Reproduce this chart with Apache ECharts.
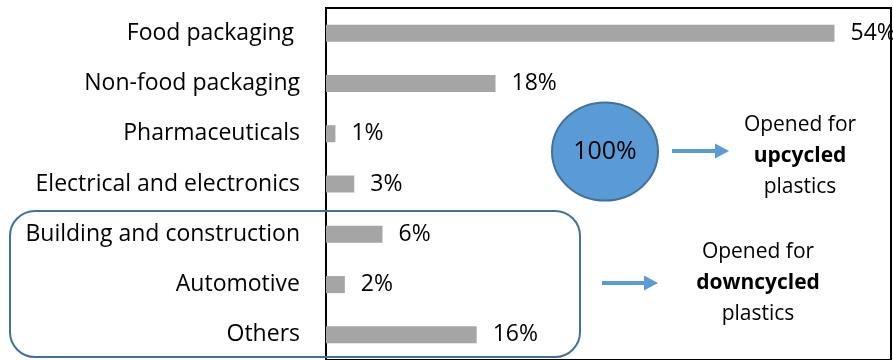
<!DOCTYPE html>
<html>
<head>
<meta charset="utf-8">
<script src="https://cdn.jsdelivr.net/npm/echarts@6/dist/echarts.min.js"></script>
<style>
  html, body { margin: 0; padding: 0; background: #fff; }
  #chart { width: 893px; height: 360px; }
</style>
</head>
<body>
<div id="chart"></div>
<script>
// sectors and their share (%)
var sectors = ['Food packaging ', 'Non-food packaging', 'Pharmaceuticals', 'Electrical and electronics',
  'Building and construction', 'Automotive', 'Others'];
var shares = [54, 18, 1, 3, 6, 2, 16];
var xMax = 60;

var FONT = 'Open Sans';
var chart = echarts.init(document.getElementById('chart'));

chart.setOption({
  animation: false,
  grid: {
    left: 326,
    right: 2,
    top: 8,
    height: 355,
    show: true,
    borderColor: '#000',
    borderWidth: 2
  },
  xAxis: {
    type: 'value',
    min: 0,
    max: xMax,
    show: false
  },
  yAxis: {
    type: 'category',
    inverse: true,
    data: sectors,
    axisLine: { lineStyle: { color: '#000', width: 2 } },
    axisTick: { show: false },
    axisLabel: {
      margin: 26,
      color: '#000',
      fontFamily: FONT,
      fontSize: 23
    }
  },
  series: [{
    type: 'bar',
    data: shares,
    barWidth: 17,
    itemStyle: { color: '#a5a5a5' },
    label: {
      show: true,
      position: 'right',
      distance: 16,
      color: '#000',
      fontFamily: FONT,
      fontSize: 23,
      formatter: '{c}%'
    }
  }],
  graphic: [
    // rounded box around the downcycled group
    {
      type: 'rect',
      shape: { x: 10, y: 211, width: 570, height: 146, r: 25 },
      style: { fill: 'none', stroke: '#41719c', lineWidth: 2 },
      z: 10
    },
    // circle
    {
      type: 'ellipse',
      shape: { cx: 605, cy: 151.5, rx: 53, ry: 49 },
      style: { fill: '#5b9bd5', stroke: '#41719c', lineWidth: 2 },
      z: 10
    },
    {
      type: 'text',
      x: 605, y: 152,
      style: {
        text: '100%', fill: '#000', font: '25px ' + FONT,
        align: 'center', verticalAlign: 'middle'
      },
      z: 11
    },
    // arrows
    {
      type: 'line',
      shape: { x1: 672, y1: 151, x2: 716, y2: 151 },
      style: { stroke: '#5b9bd5', lineWidth: 4 },
      z: 10
    },
    {
      type: 'polygon',
      shape: { points: [[715, 143.5], [729, 151], [715, 158.5]] },
      style: { fill: '#5b9bd5' },
      z: 10
    },
    {
      type: 'line',
      shape: { x1: 602, y1: 283, x2: 645, y2: 283 },
      style: { stroke: '#5b9bd5', lineWidth: 4 },
      z: 10
    },
    {
      type: 'polygon',
      shape: { points: [[644, 275.5], [658, 283], [644, 290.5]] },
      style: { fill: '#5b9bd5' },
      z: 10
    },
    // notes
    {
      type: 'text',
      x: 800, y: 156,
      style: {
        text: '{n|Opened for}\n{b|upcycled}\n{n|plastics}',
        align: 'center', verticalAlign: 'middle',
        rich: {
          n: { fontFamily: FONT, fontSize: 21, color: '#000', lineHeight: 31 },
          b: { fontFamily: FONT, fontSize: 21, fontWeight: 'bold', color: '#000', lineHeight: 31 }
        }
      },
      z: 10
    },
    {
      type: 'text',
      x: 758, y: 283,
      style: {
        text: '{n|Opened for}\n{b|downcycled}\n{n|plastics}',
        align: 'center', verticalAlign: 'middle',
        rich: {
          n: { fontFamily: FONT, fontSize: 21, color: '#000', lineHeight: 31 },
          b: { fontFamily: FONT, fontSize: 21, fontWeight: 'bold', color: '#000', lineHeight: 31 }
        }
      },
      z: 10
    }
  ]
});
</script>
</body>
</html>
